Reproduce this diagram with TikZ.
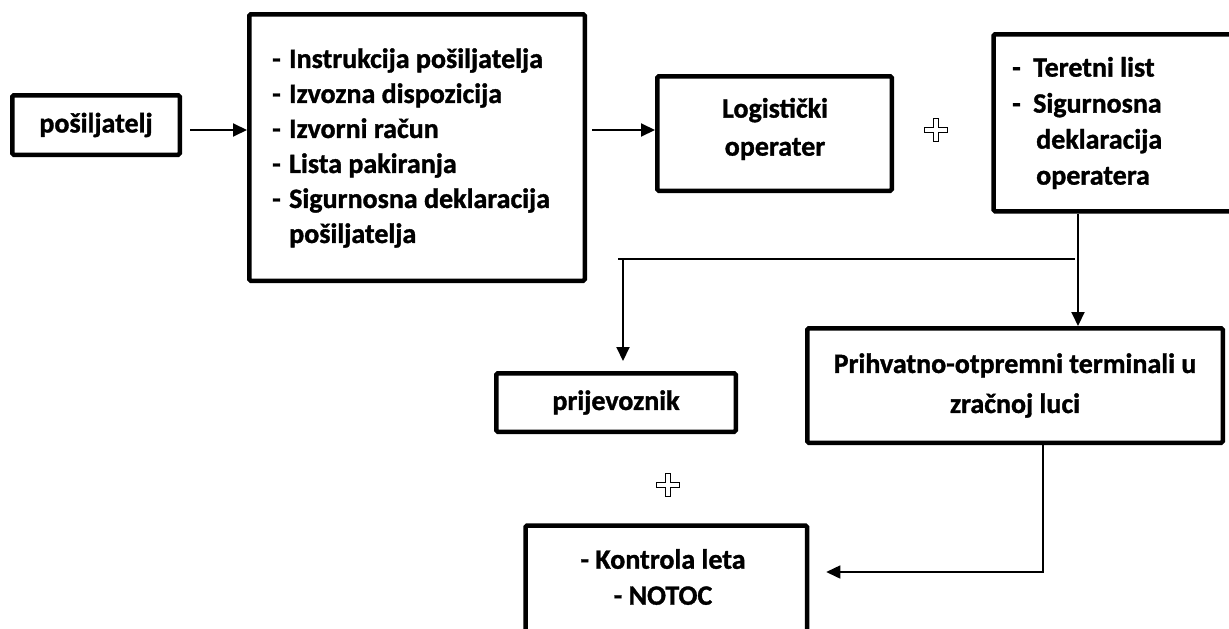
\documentclass[tikz,border=0pt]{standalone}
\usepackage{fontspec}
\setmainfont{Carlito}[BoldFeatures={FakeBold=1.2}]
\usetikzlibrary{arrows.meta,calc}
\newcommand{\dsh}{\makebox[17pt][l]{-}}
\begin{document}
\begin{tikzpicture}[x=1pt,y=-1pt,
  box/.style={draw, line width=4.5pt, rounded corners=1.5pt, inner sep=0pt},
  txt/.style={font=\bfseries\fontsize{28}{35}\selectfont},
  arr/.style={line width=2pt, -{Triangle[length=14pt,width=13pt]}},
  thinarr/.style={line width=1.5pt, -{Triangle[length=14pt,width=13pt]}},
  thinline/.style={line width=1.5pt},
  plussign/.pic={\draw[line width=1.2pt, fill=white]
     (-2.7,-11.5) -- (2.7,-11.5) -- (2.7,-2.7) -- (11.5,-2.7) -- (11.5,2.7) -- (2.7,2.7)
     -- (2.7,11.5) -- (-2.7,11.5) -- (-2.7,2.7) -- (-11.5,2.7) -- (-11.5,-2.7) -- (-2.7,-2.7) -- cycle;}
]
\useasboundingbox (0,0) rectangle (1229,629);

% boxes
\node[box, txt, minimum width=167.5pt, minimum height=59.5pt] (pos) at (96,125) {pošiljatelj};

\node[box, minimum width=335.5pt, minimum height=266.5pt] (big) at (417,147.5) {};
\node[txt, align=left, anchor=west, inner sep=0pt] (bigtxt) at (272,148)
  {\dsh Instrukcija pošiljatelja\\
   \dsh Izvozna dispozicija\\
   \dsh Izvorni račun\\
   \dsh Lista pakiranja\\
   \dsh Sigurnosna deklaracija\\
   \hspace*{17pt}pošiljatelja};

\node[box, minimum width=234.5pt, minimum height=114.5pt] (log) at (774.5,133.5) {};
\node[txt, align=center, font=\bfseries\fontsize{28}{38}\selectfont] (logtxt) at (775,129)
  {Logistički\\operater};

\node[box, anchor=north west, minimum width=260pt, minimum height=177pt] (rbox) at (991.25,32) {};
\node[txt, anchor=west, align=left, inner sep=0pt,
      font=\bfseries\fontsize{28}{36}\selectfont] (rtxt) at (1012,123)
  {\makebox[21pt][l]{-}Teretni list\\
   \makebox[21pt][l]{-}Sigurnosna\\
   \hspace*{24pt}deklaracija\\
   \hspace*{24pt}operatera};

\node[box, txt, align=center, font=\bfseries\fontsize{28}{40}\selectfont,
      minimum width=415.5pt, minimum height=114.5pt] (prih) at (1015,385.5)
  {Prihvatno-otpremni terminali u\\zračnoj luci};

\node[box, txt, minimum width=239.5pt, minimum height=58.5pt] (prij) at (616,402.5) {prijevoznik};

\node[box, anchor=north west, minimum width=281.5pt, minimum height=130pt] (bot) at (523.25,523.25) {};
\node[txt, align=center, font=\bfseries\fontsize{28}{36}\selectfont] (bottxt) at (663,577)
  {- Kontrola leta\\- NOTOC};

% plus signs
\pic at (936,130) {plussign};
\pic at (668,485) {plussign};

% connectors
\coordinate (a1) at (0,130);
\draw[arr] ([xshift=8pt]pos.east |- a1) -- (big.west |- a1);
\draw[arr] ([xshift=5pt]big.east |- a1) -- (log.west |- a1);

\coordinate (c3) at (1078,0);
\draw[arr] (rbox.south -| c3) -- (prih.north -| c3);

\coordinate (hl) at (618,259);
\coordinate (hr) at (1075,259);
\draw[thinline] (hl) -- (hr);
\coordinate (v4) at (623,259);
\draw[arr, shorten >=10pt] (v4) -- (prij.north -| v4);

\coordinate (c5) at (1043,572);
\draw[thinarr] (prih.south -| c5) -- (c5) -- ([xshift=17pt]bot.east |- c5);
\end{tikzpicture}
\end{document}
